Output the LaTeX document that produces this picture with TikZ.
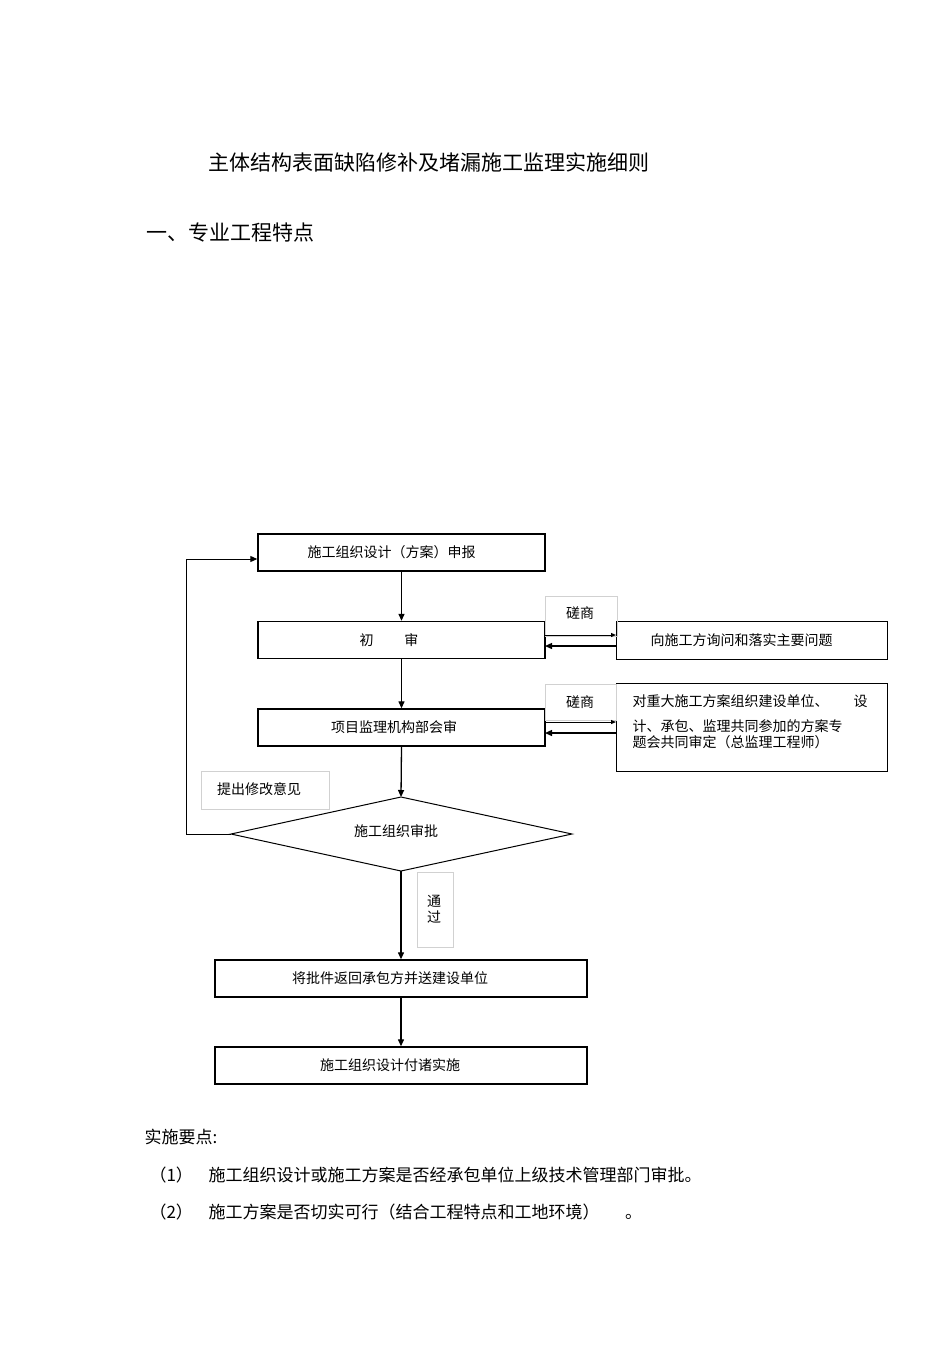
\documentclass[tikz,border=0pt]{standalone}
\usepackage{fontspec}
\setmainfont{Noto Sans CJK SC}
\usetikzlibrary{arrows.meta}
\begin{document}
\begin{tikzpicture}[x=1pt,y=-1pt,
  box/.style={draw,line width=1.4pt,minimum height=37pt,inner sep=0pt,font=\fontsize{14}{16}\selectfont},
  lbl/.style={draw=black!18,line width=0.6pt,inner sep=0pt,font=\fontsize{14}{16}\selectfont},
  arr/.style={line width=1.3pt,-{Triangle[length=7pt,width=6pt]}},
  small/.style={line width=1pt,-{Triangle[length=5pt,width=4pt]}}]
\useasboundingbox (0,0) rectangle (950,1345);
\node[font=\fontsize{21}{24}\selectfont,anchor=west] (title) at (205,162) {主体结构表面缺陷修补及堵漏施工监理实施细则};
\node[font=\fontsize{21}{24}\selectfont,anchor=west] (h1) at (143,233) {一、专业工程特点};

\node[box,minimum width=287pt] (b1) at (401.5,552.5) {\hspace*{-20pt}施工组织设计（方案）申报};
\node[box,minimum width=287pt] (b2) at (401.5,640) {\hspace*{-25pt}初\hspace{2.2em}审};
\node[box,minimum width=287pt] (b3) at (401.5,727.5) {\hspace*{-15pt}项目监理机构部会审};
\node[draw,line width=1pt,minimum width=271pt,minimum height=38pt,font=\fontsize{14}{16}\selectfont] (r1) at (751.5,640) {\hspace*{-20pt}向施工方询问和落实主要问题};
\node[draw,line width=1pt,minimum width=271pt,minimum height=88pt,inner sep=0pt] (r2) at (751.5,727) {};
\node[anchor=north west,align=left,font=\fontsize{14}{16}\selectfont,text width=250pt] (r2t) at (629,691)
 {\baselineskip=25pt 对重大施工方案组织建设单位、\hspace{1.8em}设\\计、承包、监理共同参加的方案专\\题会共同审定（总监理工程师）};
\node[lbl,minimum width=72pt,minimum height=40pt] (c1) at (581,616) {};
\node[font=\fontsize{14}{16}\selectfont] (c1t) at (580,613) {磋商};
\node[lbl,minimum width=71pt,minimum height=36pt] (c2) at (580.5,702) {};
\node[font=\fontsize{14}{16}\selectfont] (c2t) at (580,702) {磋商};
\coordinate (a1) at (545,635); \coordinate (a2) at (616,635);
\coordinate (a3) at (616,646); \coordinate (a4) at (545,646);
\draw[small] (a1) -- (a2);
\draw[arr] (a3) -- (a4);
\coordinate (d1) at (545,722); \coordinate (d2) at (616,722);
\coordinate (d3) at (616,733); \coordinate (d4) at (545,733);
\draw[small] (d1) -- (d2);
\draw[arr] (d3) -- (d4);

\node[lbl,minimum width=128pt,minimum height=38pt] (m) at (265,790) {};
\node[font=\fontsize{14}{16}\selectfont] (mt) at (259,789) {提出修改意见};
\coordinate (dl) at (231,834); \coordinate (dt) at (401,797); \coordinate (dr) at (572,834); \coordinate (db) at (401,871);
\draw[line width=1pt] (dl) -- (dt) -- (dr) -- (db) -- cycle;
\node[font=\fontsize{14}{16}\selectfont] (dtext) at (396,831) {施工组织审批};
\node[lbl,minimum width=36pt,minimum height=75pt] (pass) at (435,909.5) {};
\node[font=\fontsize{14}{16}\selectfont,align=center] (passt) at (434,909) {\baselineskip=25pt 通\\过};

\node[box,minimum width=372pt] (b4) at (401,978.5) {\hspace*{-22pt}将批件返回承包方并送建设单位};
\node[box,minimum width=372pt] (b5) at (401,1065.5) {\hspace*{-22pt}施工组织设计付诸实施};

\draw[arr] (b1) -- (b2);
\draw[arr] (b2) -- (b3);
\draw[arr] (b3.south) -- (dt);
\draw[arr] (db) -- (b4);
\draw[arr] (b4) -- (b5);
\coordinate (lp1) at (186,834); \coordinate (lp2) at (186,559);
\draw[arr,line width=1pt] (dl) -- (lp1) -- (lp2) -- (lp2 -| b1.west);

\node[font=\fontsize{17}{20}\selectfont,anchor=west] (p0) at (141,1137) {实施要点:};
\node[font=\fontsize{17}{20}\selectfont,anchor=west] (p1n) at (146,1175) {（1）};
\node[font=\fontsize{17}{20}\selectfont,anchor=west] (p1) at (205,1175) {施工组织设计或施工方案是否经承包单位上级技术管理部门审批。};
\node[font=\fontsize{17}{20}\selectfont,anchor=west] (p2n) at (146,1212) {（2）};
\node[font=\fontsize{17}{20}\selectfont,anchor=west] (p2) at (205,1212) {施工方案是否切实可行（结合工程特点和工地环境）\hspace{1.5em}。};
\end{tikzpicture}
\end{document}
